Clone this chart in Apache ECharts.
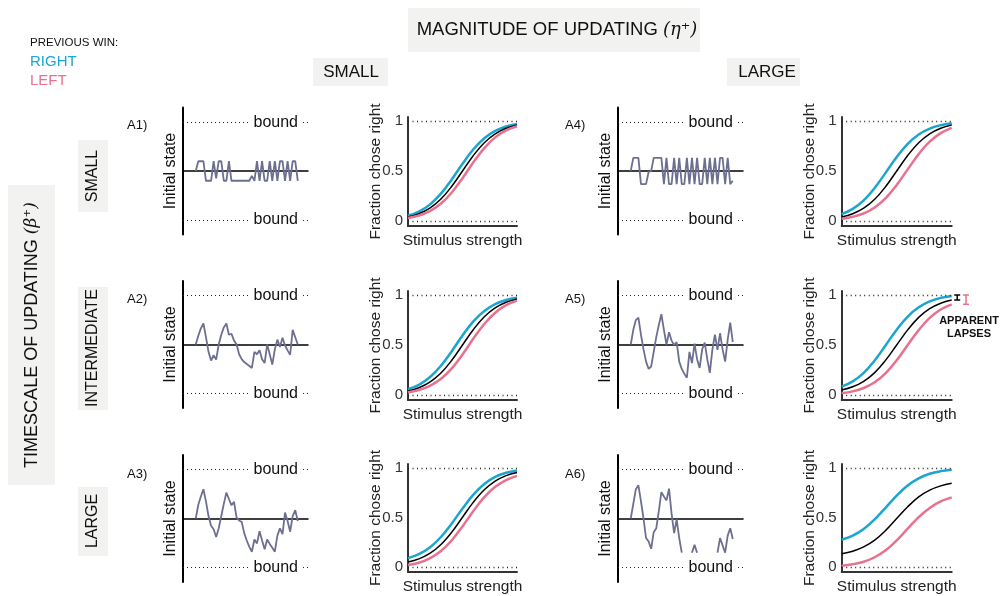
<!DOCTYPE html>
<html><head><meta charset="utf-8">
<script src="https://cdn.jsdelivr.net/npm/echarts@6/dist/echarts.min.js"></script>
<style>html,body{margin:0;padding:0;background:#fff}#c{width:1000px;height:596px}</style>
</head><body><div id="c"></div>
<script>
// ---------- data ----------
const stimulus = [0,0.1,0.2,0.3,0.4,0.5,0.6,0.7,0.8,0.9,1.0];
const yTicks = [0, 0.5, 1];

// initial-state traces (units of the bound), 41 trials each
const A1_state = [0,0.2,0.2,0.2,-0.2,-0.2,-0.2,0.2,-0.15,0.2,0.2,-0.2,-0.2,0.2,-0.2,-0.2,-0.2,-0.2,-0.2,-0.2,-0.2,-0.2,-0.1,-0.2,0.2,-0.2,0.2,-0.2,-0.2,0.2,-0.2,0.2,-0.2,0.2,0.2,-0.2,0.2,-0.2,0.2,0.2,-0.2];
const A2_state = [0,0.18,0.33,0.43,0.15,-0.15,-0.33,-0.22,-0.31,0.0,0.2,0.35,0.43,0.2,0.22,0.08,0.0,-0.2,-0.3,-0.36,-0.4,-0.44,-0.48,-0.15,-0.2,-0.12,-0.3,-0.38,0.0,-0.2,-0.41,-0.1,0.1,-0.05,0.14,-0.02,-0.12,-0.21,0.3,0.15,0.0];
const A3_state = [0,0.28,0.45,0.6,0.35,0.05,-0.15,-0.22,-0.38,-0.2,0.05,0.3,0.53,0.4,0.27,0.34,0.02,-0.04,-0.07,-0.3,-0.45,-0.58,-0.68,-0.43,-0.51,-0.26,-0.45,-0.63,-0.43,-0.52,-0.6,-0.68,-0.35,-0.2,-0.32,0.12,-0.05,-0.27,0.05,0.17,-0.05];
const A4_state = [0,0.27,0.27,0.27,-0.27,-0.27,-0.27,-0.02,0,0.27,0.27,0.27,0.27,-0.27,0.27,-0.27,-0.27,0.27,-0.27,0.27,-0.27,-0.27,0.27,-0.27,0.27,-0.27,0.27,-0.27,-0.27,0.27,-0.27,0.27,-0.27,0.27,-0.27,0.27,0.27,-0.27,0.27,-0.27,-0.2];
const A5_state = [0,0.3,0.5,0.55,0.2,-0.1,-0.35,-0.5,-0.45,-0.15,0.15,0.4,0.62,0.3,0,0.25,0.08,-0.01,0.05,-0.35,-0.5,-0.6,-0.68,-0.15,-0.38,0.02,-0.3,-0.48,-0.1,0.04,-0.3,-0.58,-0.1,0.2,-0.11,0.23,-0.1,-0.35,0.1,0.45,0.05];
const A6_state = [0,0.3,0.6,0.68,0.35,0,-0.4,-0.47,-0.62,-0.28,-0.2,0.15,0.54,0.45,0.37,0.61,0.1,-0.3,-0.02,-0.4,-0.7,null,null,null,-0.7,-0.54,-0.7,null,null,null,null,null,null,null,-0.7,-0.4,-0.55,-0.7,-0.35,-0.2,-0.42];

// psychometric curves: fraction chose right vs stimulus strength
const A1_right = [0.052,0.094,0.164,0.271,0.413,0.572,0.717,0.828,0.901,0.945,0.970];
const A1_avg   = [0.039,0.072,0.128,0.217,0.345,0.500,0.655,0.783,0.872,0.928,0.961];
const A1_left  = [0.030,0.055,0.099,0.172,0.283,0.428,0.587,0.729,0.836,0.906,0.948];
const A2_right = [0.057,0.102,0.177,0.290,0.436,0.595,0.736,0.841,0.909,0.950,0.973];
const A2_avg   = [0.039,0.072,0.128,0.217,0.345,0.500,0.655,0.783,0.872,0.928,0.961];
const A2_left  = [0.027,0.050,0.091,0.159,0.264,0.405,0.564,0.710,0.823,0.898,0.944];
const A3_right = [0.090,0.131,0.198,0.301,0.438,0.591,0.731,0.838,0.909,0.951,0.975];
const A3_avg   = [0.050,0.082,0.137,0.225,0.350,0.503,0.655,0.780,0.868,0.923,0.955];
const A3_left  = [0.020,0.044,0.088,0.159,0.268,0.410,0.566,0.705,0.810,0.878,0.920];
const A4_right = [0.068,0.121,0.207,0.331,0.484,0.640,0.771,0.865,0.924,0.958,0.978];
const A4_avg   = [0.039,0.072,0.128,0.217,0.345,0.500,0.655,0.783,0.872,0.928,0.961];
const A4_left  = [0.022,0.042,0.076,0.135,0.229,0.360,0.516,0.669,0.793,0.879,0.932];
const A5_right = [0.083,0.136,0.222,0.345,0.498,0.653,0.784,0.877,0.936,0.971,0.990];
const A5_avg   = [0.050,0.082,0.137,0.224,0.349,0.500,0.651,0.776,0.863,0.918,0.950];
const A5_left  = [0.017,0.036,0.070,0.127,0.219,0.347,0.500,0.649,0.771,0.855,0.907];
const A6_right = [0.276,0.317,0.384,0.481,0.600,0.721,0.823,0.895,0.941,0.968,0.983];
const A6_avg   = [0.134,0.160,0.203,0.271,0.370,0.490,0.609,0.708,0.776,0.819,0.845];
const A6_left  = [0.013,0.028,0.054,0.099,0.169,0.269,0.387,0.503,0.597,0.662,0.703];

// ---------- style ----------
const FONT = '"Liberation Sans", Arial, Helvetica, sans-serif';
const BLUE = '#1aa6cf', PINK = '#e8718d', TRACE = '#6d6f90', BOX = '#f2f2f1';

const stateLeft = [183, 618];
const stateTop = [107.5, 281, 455];
const psyLeft = [408, 841.7];
const psyWidth = [109, 110];
const psyTop = [117, 291, 464];

const stateSets = [A1_state, A2_state, A3_state, A4_state, A5_state, A6_state];
const psySets = [[A1_right,A1_avg,A1_left],[A2_right,A2_avg,A2_left],[A3_right,A3_avg,A3_left],
                 [A4_right,A4_avg,A4_left],[A5_right,A5_avg,A5_left],[A6_right,A6_avg,A6_left]];

const grid = [], xAxis = [], yAxis = [], series = [];
const noAx = {axisTick:{show:false}, splitLine:{show:false}};

function addState(trace, left, top) {
  const gi = grid.length;
  grid.push({left, top, width:125, height:127});
  xAxis.push(Object.assign({type:'value', gridIndex:gi, min:-5, max:44,
    axisLine:{show:true, onZero:true, lineStyle:{color:'#000', width:1.5}},
    axisLabel:{show:false}}, noAx));
  yAxis.push(Object.assign({type:'value', gridIndex:gi, min:-1.3, max:1.3,
    name:'Initial state', nameLocation:'middle', nameGap:4, nameMoveOverlap:false,
    nameTextStyle:{fontSize:16, color:'#111', fontFamily:FONT},
    axisLine:{show:true, onZero:false, lineStyle:{color:'#000', width:2}},
    axisLabel:{show:false}}, noAx));
  series.push({type:'line', xAxisIndex:gi, yAxisIndex:gi, showSymbol:false, connectNulls:false,
    data: trace.map((v,i)=>[i, v===null ? '-' : v]),
    lineStyle:{color:TRACE, width:1.8}, z:3,
    markLine:{silent:true, symbol:['none','none'], animation:false,
      lineStyle:{type:[1,3], color:'#222', width:1.2},
      label:{show:true, formatter:'bound', position:'insideEnd', distance:[7,0],
        fontSize:16, color:'#111', fontFamily:FONT, backgroundColor:'#fff', padding:[1,3]},
      data:[{yAxis:1},{yAxis:-1}]}});
}

function addPsych(sets, left, top, width) {
  const gi = grid.length;
  grid.push({left, top, width, height:109});
  xAxis.push(Object.assign({type:'value', gridIndex:gi, min:0, max:1,
    name:'Stimulus strength', nameLocation:'middle', nameGap:7, nameMoveOverlap:false,
    nameTextStyle:{fontSize:15.5, color:'#222', fontFamily:FONT},
    axisLine:{show:true, onZero:false, lineStyle:{color:'#333', width:2}},
    axisLabel:{show:false}}, noAx));
  yAxis.push(Object.assign({type:'value', gridIndex:gi, min:-0.05, max:1.04,
    name:'Fraction chose right', nameLocation:'middle', nameGap:24, nameMoveOverlap:false,
    nameTextStyle:{fontSize:15.5, color:'#222', fontFamily:FONT},
    axisLine:{show:true, onZero:false, lineStyle:{color:'#333', width:2}},
    axisLabel:{show:true, customValues:yTicks, fontSize:15, color:'#333', margin:5, fontFamily:FONT,
      formatter:v=>String(v)}}, noAx));
  const cols = [BLUE, '#000', PINK];
  const widths = [2.5, 1.5, 2.5];
  sets.forEach((arr, k) => {
    const s = {type:'line', xAxisIndex:gi, yAxisIndex:gi, showSymbol:false, smooth:0.4,
      data: stimulus.map((x,i)=>[x, arr[i]]), lineStyle:{color:cols[k], width:widths[k]}, z:3};
    if (k === 1) s.markLine = {silent:true, symbol:['none','none'], animation:false,
      lineStyle:{type:[1,3.5], color:'#222', width:1.3}, label:{show:false},
      data:[{yAxis:0},{yAxis:1}]};
    series.push(s);
  });
  return gi;
}

let a5grid = -1;
for (let c = 0; c < 2; c++) {
  for (let r = 0; r < 3; r++) {
    const idx = c*3 + r;
    addState(stateSets[idx], stateLeft[c], stateTop[r]);
    const gi = addPsych(psySets[idx], psyLeft[c], psyTop[r], psyWidth[c]);
    if (idx === 4) a5grid = gi;
  }
}

// apparent lapses error bars (A5): from curve end to 1
series.push({type:'custom', xAxisIndex:a5grid, yAxisIndex:a5grid, clip:false, z:4,
  data:[{value:[1.05, A5_avg[A5_avg.length-1], 1], itemStyle:{color:'#000'}},
        {value:[1.13, A5_left[A5_left.length-1], 1], itemStyle:{color:PINK}}],
  renderItem:(params, api)=>{
    const p1 = api.coord([api.value(0), api.value(2)]);
    const p2 = api.coord([api.value(0), api.value(1)]);
    const col = api.visual('color');
    const st = {stroke:col, lineWidth:1.5};
    return {type:'group', children:[
      {type:'line', shape:{x1:p1[0],y1:p1[1],x2:p2[0],y2:p2[1]}, style:st},
      {type:'line', shape:{x1:p1[0]-3,y1:p1[1],x2:p1[0]+3,y2:p1[1]}, style:st},
      {type:'line', shape:{x1:p2[0]-3,y1:p2[1],x2:p2[0]+3,y2:p2[1]}, style:st}]};
  }});

// ---------- annotations ----------
function rect(x,y,w,h){return {type:'rect', shape:{x,y,width:w,height:h}, style:{fill:BOX}, silent:true, z:0};}
function txt(x,y,text,size,opts){return Object.assign({type:'text', x, y, silent:true, z:5,
  style:Object.assign({text, fontSize:size, fontFamily:FONT, fill:'#111', align:'left', verticalAlign:'middle'}, opts||{})});}

const graphic = [
  rect(408,8,292,44), rect(313,58,75,28), rect(727,58,73,28),
  rect(78,140,30,72), rect(78,287,30,123), rect(78,487,30,69), rect(8,185,47,300),
  {type:'text', x:557, y:30, silent:true, z:5, style:{text:'{a|MAGNITUDE OF UPDATING }{b|(η⁺)}', align:'center', verticalAlign:'middle',
    rich:{a:{fontSize:18.5, fontFamily:FONT, fill:'#111'}, b:{fontSize:18, fontFamily:'"DejaVu Serif", serif', fontStyle:'italic', fill:'#111'}}}},
  txt(351,72,'SMALL',17,{align:'center'}),
  txt(767,72,'LARGE',17,{align:'center'}),
  Object.assign(txt(93,176,'SMALL',16,{align:'center'}),{rotation:Math.PI/2}),
  Object.assign(txt(93,348,'INTERMEDIATE',16,{align:'center'}),{rotation:Math.PI/2}),
  Object.assign(txt(93,521,'LARGE',16,{align:'center'}),{rotation:Math.PI/2}),
  {type:'text', x:32, y:335, rotation:Math.PI/2, silent:true, z:5, style:{text:'{a|TIMESCALE OF UPDATING }{b|(β⁺)}', align:'center', verticalAlign:'middle',
    rich:{a:{fontSize:18, fontFamily:FONT, fill:'#111'}, b:{fontSize:17, fontFamily:'"DejaVu Serif", serif', fontStyle:'italic', fill:'#111'}}}},
  txt(30,43,'PREVIOUS WIN:',11.5),
  txt(30,62,'RIGHT',15,{fill:BLUE}),
  txt(30,81,'LEFT',15,{fill:PINK}),
  txt(127,125,'A1)',13), txt(127,299,'A2)',13), txt(127,474,'A3)',13),
  txt(565,125,'A4)',13), txt(565,299,'A5)',13), txt(565,474,'A6)',13),
  txt(969,321,'APPARENT',11,{align:'center', fontWeight:'bold'}),
  txt(969,334,'LAPSES',11,{align:'center', fontWeight:'bold'})
];

const chart = echarts.init(document.getElementById('c'), null, {renderer:'canvas'});
chart.setOption({animation:false, backgroundColor:'#fff', grid, xAxis, yAxis, series, graphic});
</script></body></html>
